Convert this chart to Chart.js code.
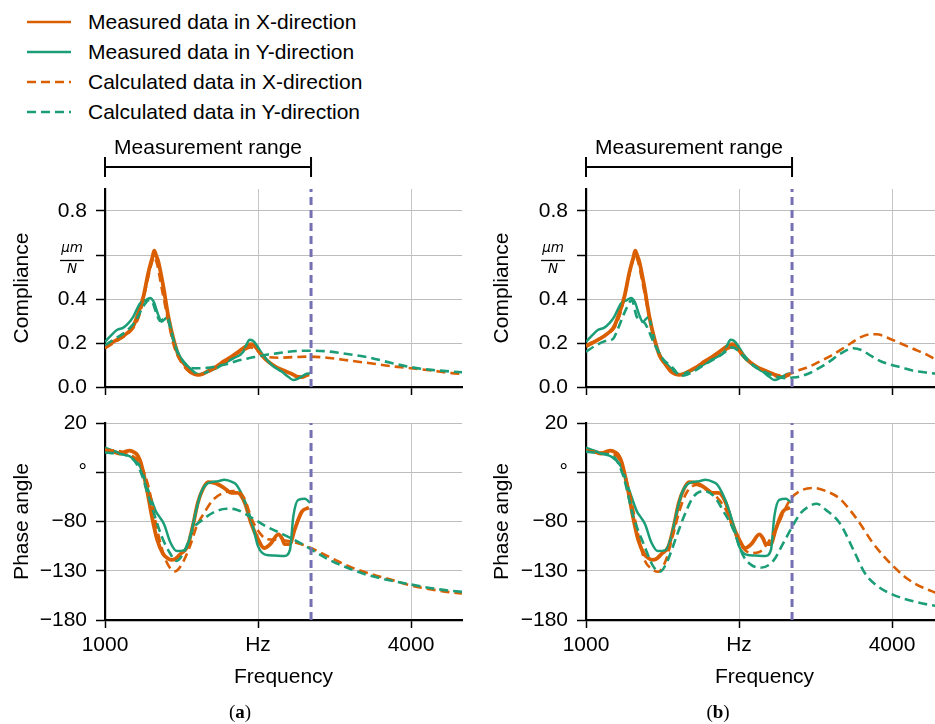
<!DOCTYPE html>
<html><head><meta charset="utf-8">
<script src="https://cdn.jsdelivr.net/npm/chart.js@4.4.0/dist/chart.umd.min.js"></script>
<style>
html,body{margin:0;padding:0;background:#fff;overflow:hidden;width:935px;height:724px;}
body{position:relative;font-family:"Liberation Sans",Arial,Helvetica,sans-serif;}
canvas{position:absolute;}
.lg{position:absolute;left:88px;font-size:21px;line-height:24px;color:#000;white-space:nowrap;}
.sub{position:absolute;width:60px;text-align:center;font-family:"Liberation Serif","Times New Roman",serif;font-size:19px;line-height:24px;color:#000;}
</style></head><body>
<svg style="position:absolute;left:0;top:0" width="80" height="130">
  <line x1="27" y1="22" x2="71" y2="22" stroke="#d95f02" stroke-width="2.5"/>
  <line x1="27" y1="52" x2="71" y2="52" stroke="#1b9e77" stroke-width="2.5"/>
  <line x1="27" y1="82" x2="71" y2="82" stroke="#d95f02" stroke-width="2.5" stroke-dasharray="9 5"/>
  <line x1="27" y1="112" x2="71" y2="112" stroke="#1b9e77" stroke-width="2.5" stroke-dasharray="9 5"/>
</svg>
<div class="lg" style="top:10px">Measured data in X-direction</div>
<div class="lg" style="top:40px">Measured data in Y-direction</div>
<div class="lg" style="top:70px">Calculated data in X-direction</div>
<div class="lg" style="top:100px">Calculated data in Y-direction</div>
<canvas id="cTL" width="480" height="292" style="left:0;top:125px;width:480px;height:292px"></canvas>
<canvas id="cTR" width="470" height="292" style="left:480px;top:125px;width:470px;height:292px"></canvas>
<canvas id="cBL" width="480" height="324" style="left:0;top:400px;width:480px;height:324px"></canvas>
<canvas id="cBR" width="470" height="324" style="left:480px;top:400px;width:470px;height:324px"></canvas>
<div class="sub" style="left:210px;top:700px">(<b>a</b>)</div>
<div class="sub" style="left:688px;top:700px">(<b>b</b>)</div>
<script>
// ---------- axes ----------
const xTickValues = [1000, 2500, 4000];
const xTickLabels = ['1000', 'Hz', '4000'];
const compTickValues = [0, 0.2, 0.4, 0.6, 0.8];
const compTickLabels = ['0.0', '0.2', '0.4', '', '0.8'];
const phaseTickValues = [-180, -130, -80, -30, 20];
const phaseTickLabels = ['\u2212180', '\u2212130', '\u221280', '\u00b0', '20'];
const measurementRange = [1000, 3020];
const freqMin = 1000, freqMax = 4500;

// ---------- measured compliance (both panels) ----------
const measCompXFreq = [1000,1060,1120,1180,1230,1275,1327,1376,1425,1465,1483,1500,1523,1572,1621,1670,1719,1784,1833,1880,1915,1970,2030,2100,2160,2230,2290,2350,2400,2440,2480,2520,2570,2618,2670,2716,2770,2814,2850,2880,2930,2970,3000];
const measCompX     = [0.185,0.20,0.215,0.232,0.25,0.274,0.336,0.41,0.52,0.59,0.62,0.60,0.57,0.456,0.32,0.22,0.145,0.10,0.07,0.058,0.055,0.062,0.077,0.095,0.115,0.135,0.154,0.175,0.19,0.195,0.18,0.154,0.128,0.109,0.093,0.082,0.072,0.063,0.055,0.047,0.045,0.052,0.057];
const measCompYFreq = [1000,1060,1120,1180,1230,1278,1343,1400,1441,1480,1520,1556,1590,1615,1645,1670,1735,1833,1880,1930,2000,2095,2180,2258,2356,2390,2415,2450,2487,2549,2634,2732,2800,2846,2900,2977,3010];
const measCompY     = [0.205,0.235,0.26,0.27,0.29,0.32,0.38,0.395,0.405,0.385,0.33,0.297,0.31,0.318,0.265,0.213,0.138,0.086,0.066,0.058,0.068,0.086,0.11,0.13,0.16,0.195,0.215,0.21,0.19,0.145,0.10,0.07,0.045,0.032,0.04,0.06,0.062];

// ---------- measured phase (both panels) ----------
const measPhaseXFreq = [1000,1080,1150,1200,1240,1290,1320,1350,1410,1460,1510,1570,1610,1650,1690,1740,1810,1860,1910,1960,2010,2080,2170,2240,2300,2370,2430,2500,2560,2620,2700,2740,2760,2810,2860,2930,3000];
const measPhaseX     = [-7,-9,-11,-9,-8,-10,-13,-20,-47,-75,-98,-113,-117,-119,-118,-113,-105,-85,-61,-47,-40,-41,-46,-51,-51,-61,-81,-98,-107,-103,-93,-98,-103,-103,-88,-70,-66];
const measPhaseYFreq = [1000,1080,1150,1246,1343,1420,1500,1539,1580,1640,1705,1780,1830,1880,1940,2010,2110,2170,2250,2290,2370,2450,2500,2570,2660,2760,2814,2846,2895,2961,3010];
const measPhaseY     = [-5,-8,-11,-14,-24,-47,-70,-76,-83,-101,-110,-109,-98,-75,-51,-41,-39,-37.6,-40,-43,-59.5,-85,-105,-113.6,-114.6,-115,-108.5,-75,-58,-57,-61];

// ---------- calculated, panel (a) ----------
const calcCompXFreqA = [1000,1100,1200,1280,1340,1400,1450,1480,1510,1560,1620,1680,1750,1830,1900,1950,2050,2150,2250,2350,2430,2480,2530,2580,2700,2850,3000,3200,3400,3600,3800,4000,4200,4400,4500];
const calcCompXA     = [0.175,0.205,0.235,0.27,0.33,0.45,0.55,0.59,0.56,0.44,0.30,0.18,0.11,0.068,0.055,0.058,0.078,0.105,0.14,0.165,0.18,0.17,0.15,0.138,0.133,0.136,0.138,0.132,0.12,0.108,0.095,0.085,0.075,0.063,0.059];
const calcCompYFreqA = [1000,1100,1200,1300,1380,1430,1460,1500,1540,1580,1610,1650,1700,1760,1830,1900,2000,2100,2200,2291,2400,2487,2600,2683,2800,2900,3000,3150,3300,3450,3600,3800,4000,4200,4400,4500];
const calcCompYA     = [0.19,0.22,0.25,0.30,0.37,0.395,0.39,0.34,0.30,0.31,0.31,0.25,0.17,0.12,0.088,0.085,0.087,0.095,0.105,0.118,0.13,0.138,0.148,0.153,0.16,0.164,0.165,0.163,0.155,0.145,0.133,0.11,0.09,0.078,0.07,0.067];
const calcPhaseXFreqA = [1000,1246,1343,1425,1505,1570,1636,1686,1750,1833,1898,1980,2060,2160,2260,2355,2450,2520,2584,2680,2810,2940,3000,3200,3400,3600,3800,4000,4200,4400,4500];
const calcPhaseXA     = [-7,-12,-21,-44,-85,-112,-127,-130.6,-124,-105,-85,-70,-58,-51,-49,-54.5,-80,-92,-98,-98.5,-100,-103.5,-106,-116,-126,-133,-139,-145,-149,-152,-153];
const calcPhaseYFreqA = [1000,1246,1343,1425,1490,1555,1636,1700,1780,1862,1960,2060,2190,2290,2420,2580,2745,2880,3000,3200,3400,3565,3800,4000,4250,4500];
const calcPhaseYA     = [-10,-14.5,-28,-54,-75,-95,-112,-120,-110,-88,-78,-71,-67,-68,-75,-85,-93,-100,-107,-119,-128,-134,-140,-144,-148.5,-151.5];

// ---------- calculated, panel (b) ----------
const calcCompXFreqB = [1000,1100,1200,1280,1340,1400,1450,1480,1510,1560,1620,1680,1750,1830,1900,1960,2050,2150,2250,2350,2430,2480,2550,2650,2750,2850,2930,3000,3100,3200,3300,3400,3500,3600,3700,3800,3850,3950,4050,4200,4350,4420,4500];
const calcCompXB     = [0.19,0.21,0.24,0.27,0.34,0.46,0.56,0.60,0.57,0.46,0.32,0.20,0.12,0.075,0.057,0.06,0.08,0.11,0.14,0.165,0.18,0.175,0.14,0.10,0.075,0.058,0.052,0.06,0.078,0.095,0.118,0.142,0.17,0.20,0.228,0.24,0.24,0.225,0.205,0.175,0.145,0.127,0.115];
const calcCompYFreqB = [1000,1100,1200,1268,1300,1399,1448,1497,1540,1578,1620,1660,1750,1856,1922,1980,2050,2150,2250,2350,2430,2480,2550,2650,2750,2850,2950,3000,3100,3200,3300,3400,3500,3620,3700,3800,3900,4000,4100,4200,4350,4500];
const calcCompYB     = [0.16,0.19,0.21,0.22,0.25,0.36,0.395,0.32,0.30,0.29,0.25,0.206,0.13,0.085,0.051,0.055,0.07,0.098,0.125,0.155,0.18,0.17,0.135,0.095,0.068,0.05,0.04,0.042,0.048,0.065,0.09,0.12,0.153,0.176,0.168,0.14,0.115,0.10,0.088,0.075,0.065,0.057];
const calcPhaseXFreqB = [1000,1150,1246,1343,1425,1505,1570,1640,1709,1780,1850,1920,1990,2085,2180,2280,2380,2460,2540,2620,2700,2780,2860,2940,3000,3100,3229,3350,3490,3600,3686,3800,3900,3980,4144,4300,4422,4500];
const calcPhaseXB     = [-8,-10,-11,-20,-50,-90,-118,-128,-131,-120,-95,-68,-50,-43,-48,-55,-70,-92,-107,-112,-111,-102,-88,-70,-58,-49,-46,-49,-57,-70,-82,-100,-113,-122,-137.6,-147,-152,-155];
const calcPhaseYFreqB = [1000,1150,1268,1366,1464,1562,1660,1725,1790,1888,1960,2052,2160,2260,2350,2444,2500,2542,2620,2706,2836,2934,3023,3100,3180,3262,3350,3490,3621,3735,3850,3980,4209,4422,4500];
const calcPhaseYB     = [-9,-11,-14,-34,-75,-102,-125.6,-131,-122,-95,-75,-55,-49,-55,-70,-88,-104,-115,-124,-127,-120,-102,-85,-72,-65,-62,-68,-82,-108.6,-132.6,-145,-153,-161,-165.5,-166.5];

// ---------- style ----------
const ORANGE = '#d95f02', GREEN = '#1b9e77', PURPLE = '#7570b3';
const FONT = '"Liberation Sans", Arial, Helvetica, sans-serif';
const FS = 21;

function pts(f, v) { return f.map((x, i) => ({x: x, y: v[i]})); }
function solid(data, color, w) {
  return {data, borderColor: color, borderWidth: w, pointRadius: 0, fill: false, cubicInterpolationMode: 'monotone'};
}
function dashed(data, color) {
  return {data, borderColor: color, borderWidth: 2.6, borderDash: [9, 5], pointRadius: 0, fill: false, cubicInterpolationMode: 'monotone'};
}
function vline(yMin, yMax) {
  return {data: [{x: measurementRange[1], y: yMin}, {x: measurementRange[1], y: yMax}], borderColor: PURPLE, borderWidth: 3, borderDash: [8, 5], pointRadius: 0, fill: false};
}

const bracketPlugin = {
  id: 'bracket',
  afterDraw(chart) {
    if (!chart.options.plugins.bracket || !chart.options.plugins.bracket.show) return;
    const ctx = chart.ctx, xs = chart.scales.x, top = chart.chartArea.top;
    const x0 = xs.getPixelForValue(measurementRange[0]);
    const x1 = xs.getPixelForValue(measurementRange[1]);
    const yl = top - 22;
    ctx.save();
    ctx.strokeStyle = '#000'; ctx.lineWidth = 2;
    ctx.beginPath();
    ctx.moveTo(x0, yl); ctx.lineTo(x1, yl);
    ctx.moveTo(x0, yl - 10); ctx.lineTo(x0, yl + 10);
    ctx.moveTo(x1, yl - 10); ctx.lineTo(x1, yl + 10);
    ctx.stroke();
    ctx.fillStyle = '#000';
    ctx.font = FS + 'px ' + FONT;
    ctx.textAlign = 'center'; ctx.textBaseline = 'middle';
    ctx.fillText('Measurement range', (x0 + x1) / 2, top - 41);
    ctx.restore();
  }
};
const fractionPlugin = {
  id: 'fraction',
  afterDraw(chart) {
    if (!chart.options.plugins.fraction || !chart.options.plugins.fraction.show) return;
    const ctx = chart.ctx, ys = chart.scales.y;
    const y = ys.getPixelForValue(0.6);
    const cx = ys.right - 33;
    ctx.save();
    ctx.fillStyle = '#000'; ctx.strokeStyle = '#000'; ctx.lineWidth = 1.3;
    ctx.font = 'italic 13.5px "DejaVu Sans", sans-serif';
    ctx.textAlign = 'center'; ctx.textBaseline = 'middle';
    ctx.fillText('\u03bcm', cx, y - 7);
    ctx.beginPath(); ctx.moveTo(cx - 12, y + 5.5); ctx.lineTo(cx + 12, y + 5.5); ctx.stroke();
    ctx.fillText('N', cx, y + 14);
    ctx.restore();
  }
};

function makePanel(id, o) {
  const yVals = o.yTicks, yLabs = o.yLabels;
  return new Chart(document.getElementById(id), {
    type: 'line',
    data: {datasets: o.datasets},
    plugins: [bracketPlugin, fractionPlugin],
    options: {
      responsive: false, animation: false, devicePixelRatio: 1, events: [],
      layout: {padding: {left: 0, top: o.padTop, right: o.padRight, bottom: 0}},
      plugins: {legend: {display: false}, tooltip: {enabled: false},
                bracket: {show: !!o.bracket}, fraction: {show: !!o.fraction}},
      scales: {
        x: {
          type: 'linear', min: freqMin, max: freqMax,
          afterBuildTicks: s => { s.ticks = xTickValues.map(v => ({value: v})); },
          afterFit: s => { s.height = o.xHeight; },
          grid: {color: '#c6c6c6', lineWidth: 1, tickColor: '#000', tickLength: 8, tickWidth: 1.5},
          border: {color: '#000', width: 2.2},
          ticks: {display: o.showX, autoSkip: false, maxRotation: 0, padding: 5,
                  color: '#000', font: {family: FONT, size: FS},
                  callback: v => { const i = xTickValues.indexOf(v); return i >= 0 ? xTickLabels[i] : ''; }},
          title: {display: o.showX, text: 'Frequency', color: '#000', font: {family: FONT, size: FS},
                  padding: {top: 0, bottom: 34}}
        },
        y: {
          type: 'linear', min: o.yMin, max: o.yMax,
          afterBuildTicks: s => { s.ticks = yVals.map(v => ({value: v})); },
          afterFit: s => { s.width = o.yWidth; },
          grid: {color: '#bdbdbd', lineWidth: 1, tickColor: '#000', tickLength: 9, tickWidth: 1.5},
          border: {color: '#000', width: 2.2},
          ticks: {autoSkip: false, padding: 9, color: '#000', font: {family: FONT, size: FS},
                  callback: v => { const i = yVals.findIndex(t => Math.abs(t - v) < 1e-9); return i >= 0 ? yLabs[i] : ''; }},
          title: {display: true, text: o.yTitle, color: '#000', font: {family: FONT, size: FS},
                  padding: {top: 9.5, bottom: 0}}
        }
      }
    }
  });
}

makePanel('cTL', {
  padTop: 64, padRight: 18, yWidth: 105, xHeight: 30, showX: false, bracket: true, fraction: true,
  yMin: 0, yMax: 0.9, yTicks: compTickValues, yLabels: compTickLabels, yTitle: 'Compliance',
  datasets: [vline(0, 0.9), dashed(pts(calcCompYFreqA, calcCompYA), GREEN), dashed(pts(calcCompXFreqA, calcCompXA), ORANGE),
             solid(pts(measCompYFreq, measCompY), GREEN, 2.5), solid(pts(measCompXFreq, measCompX), ORANGE, 3.8)]
});
makePanel('cTR', {
  padTop: 64, padRight: 7, yWidth: 106, xHeight: 30, showX: false, bracket: true, fraction: true,
  yMin: 0, yMax: 0.9, yTicks: compTickValues, yLabels: compTickLabels, yTitle: 'Compliance',
  datasets: [vline(0, 0.9), dashed(pts(calcCompYFreqB, calcCompYB), GREEN), dashed(pts(calcCompXFreqB, calcCompXB), ORANGE),
             solid(pts(measCompYFreq, measCompY), GREEN, 2.5), solid(pts(measCompXFreq, measCompX), ORANGE, 3.8)]
});
makePanel('cBL', {
  padTop: 23, padRight: 18, yWidth: 105, xHeight: 104, showX: true,
  yMin: -180, yMax: 20, yTicks: phaseTickValues, yLabels: phaseTickLabels, yTitle: 'Phase angle',
  datasets: [vline(-180, 20), dashed(pts(calcPhaseYFreqA, calcPhaseYA), GREEN), dashed(pts(calcPhaseXFreqA, calcPhaseXA), ORANGE),
             solid(pts(measPhaseYFreq, measPhaseY), GREEN, 2.5), solid(pts(measPhaseXFreq, measPhaseX), ORANGE, 3.8)]
});
makePanel('cBR', {
  padTop: 23, padRight: 7, yWidth: 106, xHeight: 104, showX: true,
  yMin: -180, yMax: 20, yTicks: phaseTickValues, yLabels: phaseTickLabels, yTitle: 'Phase angle',
  datasets: [vline(-180, 20), dashed(pts(calcPhaseYFreqB, calcPhaseYB), GREEN), dashed(pts(calcPhaseXFreqB, calcPhaseXB), ORANGE),
             solid(pts(measPhaseYFreq, measPhaseY), GREEN, 2.5), solid(pts(measPhaseXFreq, measPhaseX), ORANGE, 3.8)]
});
</script>
</body></html>
